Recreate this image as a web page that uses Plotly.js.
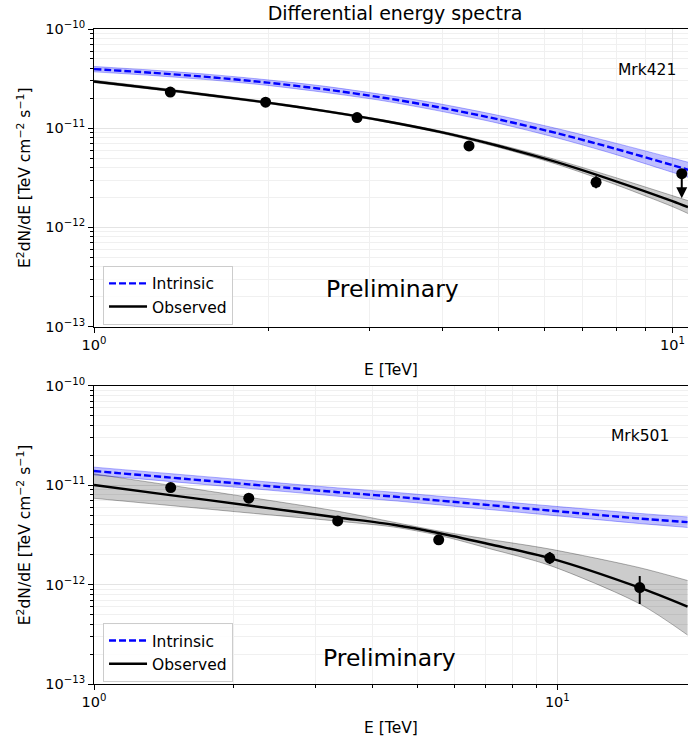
<!DOCTYPE html>
<html><head><meta charset="utf-8">
<script src="https://cdn.plot.ly/plotly-3.0.1.min.js"></script>
<style>html,body{margin:0;padding:0;background:#fff}#chart{width:688px;height:740px}</style>
</head><body><div id="chart"></div>
<script>
// ---------- Mrk421 (top panel) ----------
const e421Fit = [1, 1.259, 1.585, 1.995, 2.512, 3.162, 3.981, 5.012, 6.31, 7.943, 10, 10.64];
const obs421 = [2.96e-11, 2.53e-11, 2.15e-11, 1.81e-11, 1.486e-11, 1.189e-11, 9.12e-12, 6.61e-12, 4.55e-12, 2.95e-12, 1.84e-12, 1.60e-12];
const obs421Hi = [3.04e-11, 2.60e-11, 2.20e-11, 1.848e-11, 1.514e-11, 1.214e-11, 9.36e-12, 6.84e-12, 4.79e-12, 3.20e-12, 2.09e-12, 1.86e-12];
const obs421Lo = [2.88e-11, 2.47e-11, 2.10e-11, 1.773e-11, 1.458e-11, 1.165e-11, 8.89e-12, 6.39e-12, 4.33e-12, 2.72e-12, 1.62e-12, 1.38e-12];

const e421Int = [1, 1.259, 1.585, 1.995, 2.512, 3.162, 3.981, 5.012, 6.31, 7.943, 10, 10.64];
const int421 = [3.94e-11, 3.62e-11, 3.27e-11, 2.88e-11, 2.46e-11, 2.03e-11, 1.61e-11, 1.225e-11, 8.91e-12, 6.24e-12, 4.24e-12, 3.81e-12];
const int421Hi = [4.19e-11, 3.85e-11, 3.48e-11, 3.07e-11, 2.64e-11, 2.18e-11, 1.75e-11, 1.343e-11, 9.93e-12, 7.11e-12, 5.0e-12, 4.54e-12];
const int421Lo = [3.70e-11, 3.40e-11, 3.07e-11, 2.70e-11, 2.29e-11, 1.89e-11, 1.48e-11, 1.118e-11, 8.0e-12, 5.47e-12, 3.59e-12, 3.20e-12];

const e421Pts = [1.355, 1.98, 2.85, 4.45, 7.38];
const f421Pts = [2.31e-11, 1.83e-11, 1.28e-11, 6.62e-12, 2.85e-12];
const f421ErrUp = [0.4e-12, 0.35e-12, 0.3e-12, 0.25e-12, 0.42e-12];
const f421ErrDn = [0.4e-12, 0.35e-12, 0.3e-12, 0.25e-12, 0.37e-12];
// upper limit point
const e421UL = [10.38];
const f421UL = [3.48e-12];
const f421ULEnd = [1.97e-12];

// ---------- Mrk501 (bottom panel) ----------
const e501Fit = [1, 1.46, 2.16, 3.36, 4.43, 5.57, 7.14, 9.63, 15.06, 19.1];
const obs501 = [1.007e-11, 7.96e-12, 6.25e-12, 4.74e-12, 4.0e-12, 3.29e-12, 2.55e-12, 1.85e-12, 9.31e-13, 6.0e-13];
const obs501Hi = [1.30e-11, 1.00e-11, 7.57e-12, 5.47e-12, 4.25e-12, 3.45e-12, 2.85e-12, 2.28e-12, 1.48e-12, 1.10e-12];
const obs501Lo = [7.39e-12, 6.25e-12, 5.26e-12, 4.35e-12, 3.80e-12, 3.12e-12, 2.30e-12, 1.56e-12, 6.40e-13, 3.11e-13];

const e501Int = [1, 2.16, 3.36, 4.43, 9.63, 15.06, 19.1];
const int501 = [1.39e-11, 1.02e-11, 8.51e-12, 7.69e-12, 5.56e-12, 4.62e-12, 4.25e-12];
const int501Hi = [1.52e-11, 1.12e-11, 9.4e-12, 8.5e-12, 6.2e-12, 5.2e-12, 4.8e-12];
const int501Lo = [1.27e-11, 9.3e-12, 7.75e-12, 6.98e-12, 5.0e-12, 4.12e-12, 3.76e-12];

const e501Pts = [1.464, 2.158, 3.357, 5.546, 9.63, 15.06];
const f501Pts = [9.46e-12, 7.40e-12, 4.37e-12, 2.82e-12, 1.85e-12, 9.33e-13];
const f501ErrUp = [0.3e-12, 0.25e-12, 0.2e-12, 0.18e-12, 0.28e-12, 2.87e-13];
const f501ErrDn = [0.3e-12, 0.25e-12, 0.2e-12, 0.18e-12, 0.24e-12, 2.95e-13];

// ---------- ticks / labels ----------
const xTickVals = [1, 10];
const xTickText = ['10<sup>0</sup>', '10<sup>1</sup>'];
const yTickVals = [1e-13, 1e-12, 1e-11, 1e-10];
const yTickText = ['10<sup>\u221213</sup>', '10<sup>\u221212</sup>', '10<sup>\u221211</sup>', '10<sup>\u221210</sup>'];
const sources = ['Mrk421', 'Mrk501'];
const legendNames = ['Intrinsic', 'Observed'];
const titleText = 'Differential energy spectra';
const xTitle = 'E [TeV]';
const yTitle = 'E<sup>2</sup>dN/dE [TeV cm<sup>\u22122</sup> s<sup>\u22121</sup>]';
const watermark = 'Preliminary';

function minorVals(d0, d1) {
  const v = [];
  for (let d = d0; d <= d1; d++) for (let m = 2; m <= 9; m++) v.push(m * Math.pow(10, d));
  return v;
}

const FONT = 'DejaVu Sans, sans-serif';
const BLUE = '#0000ff';

function bandTraces(x, hi, lo, xa, ya, fill, edge) {
  return [
    {x: x, y: hi, xaxis: xa, yaxis: ya, mode: 'lines', line: {color: edge, width: 1, shape: 'spline', smoothing: 0.8}, showlegend: false, hoverinfo: 'skip'},
    {x: x, y: lo, xaxis: xa, yaxis: ya, mode: 'lines', line: {color: edge, width: 1, shape: 'spline', smoothing: 0.8}, fill: 'tonexty', fillcolor: fill, showlegend: false, hoverinfo: 'skip'}
  ];
}

function lineTrace(x, y, xa, ya, name, color, dash, legend) {
  return {x: x, y: y, xaxis: xa, yaxis: ya, mode: 'lines', name: name, legend: legend,
    line: {color: color, width: 2.4, dash: dash, shape: 'spline', smoothing: 0.8}};
}

function pointTrace(x, y, up, dn, xa, ya) {
  return {x: x, y: y, xaxis: xa, yaxis: ya, mode: 'markers', showlegend: false,
    marker: {color: '#000', size: 11},
    error_y: {type: 'data', symmetric: false, array: up, arrayminus: dn, color: '#000', thickness: 2, width: 0}};
}

const traces = [].concat(
  bandTraces(e421Int, int421Hi, int421Lo, 'x', 'y', 'rgba(0,0,255,0.25)', 'rgba(0,0,255,0.3)'),
  bandTraces(e421Fit, obs421Hi, obs421Lo, 'x', 'y', 'rgba(0,0,0,0.2)', 'rgba(0,0,0,0.3)'),
  [lineTrace(e421Int, int421, 'x', 'y', legendNames[0], BLUE, '7px,3px', 'legend'),
   lineTrace(e421Fit, obs421, 'x', 'y', legendNames[1], '#000', 'solid', 'legend'),
   pointTrace(e421Pts, f421Pts, f421ErrUp, f421ErrDn, 'x', 'y'),
   pointTrace(e421UL, f421UL, [0], [0], 'x', 'y')],
  bandTraces(e501Int, int501Hi, int501Lo, 'x2', 'y2', 'rgba(0,0,255,0.25)', 'rgba(0,0,255,0.3)'),
  bandTraces(e501Fit, obs501Hi, obs501Lo, 'x2', 'y2', 'rgba(0,0,0,0.2)', 'rgba(0,0,0,0.3)'),
  [lineTrace(e501Int, int501, 'x2', 'y2', legendNames[0], BLUE, '7px,3px', 'legend2'),
   lineTrace(e501Fit, obs501, 'x2', 'y2', legendNames[1], '#000', 'solid', 'legend2'),
   pointTrace(e501Pts, f501Pts, f501ErrUp, f501ErrDn, 'x2', 'y2')]
);

const GRID = '#e4e4e4';
const MINORGRID = '#f0f0f0';

function xAxis(range, anchor) {
  return {
    type: 'log', range: range, anchor: anchor, domain: [0, 1],
    tickmode: 'array', tickvals: xTickVals, ticktext: xTickText,
    ticks: 'outside', ticklen: 5, tickwidth: 1, tickcolor: '#000',
    showline: true, linecolor: '#000', linewidth: 1, mirror: true,
    showgrid: true, gridcolor: GRID, gridwidth: 1, zeroline: false,
    ticklabeloverflow: 'allow',
    tickfont: {family: FONT, size: 14.5, color: '#000'},
    minor: {tickmode: 'array', tickvals: minorVals(0, 1), ticks: 'outside', ticklen: 3, tickcolor: '#000', showgrid: true, gridcolor: MINORGRID, gridwidth: 1},
    title: {text: xTitle, font: {family: FONT, size: 15.5, color: '#000'}, standoff: 12}
  };
}
function yAxis(domain, anchor) {
  return {
    type: 'log', range: [-13, -10], anchor: anchor, domain: domain,
    tickmode: 'array', tickvals: yTickVals, ticktext: yTickText,
    ticks: 'outside', ticklen: 5, tickwidth: 1, tickcolor: '#000',
    showline: true, linecolor: '#000', linewidth: 1, mirror: false,
    showgrid: true, gridcolor: GRID, gridwidth: 1, zeroline: false,
    tickfont: {family: FONT, size: 14.5, color: '#000'},
    minor: {tickmode: 'array', tickvals: minorVals(-13, -11), ticks: 'outside', ticklen: 3, tickcolor: '#000', showgrid: true, gridcolor: MINORGRID, gridwidth: 1},
    title: {text: yTitle, font: {family: FONT, size: 15.5, color: '#000'}, standoff: 10}
  };
}

const legendBase = {
  xref: 'paper', yref: 'paper', xanchor: 'left', yanchor: 'top', traceorder: 'normal',
  bgcolor: 'rgba(255,255,255,0.85)', bordercolor: '#cccccc', borderwidth: 1,
  font: {family: FONT, size: 15.5, color: '#000'}, itemwidth: 38, tracegroupgap: 0
};

const layout = {
  width: 688, height: 740,
  margin: {l: 94, r: 0, t: 29.3, b: 56, pad: 0},
  paper_bgcolor: '#fff', plot_bgcolor: '#fff',
  font: {family: FONT, color: '#000'},
  title: {text: titleText, font: {family: FONT, size: 19, color: '#000'}, xref: 'container', yref: 'container', x: 395 / 688, xanchor: 'center', y: 1 - 13 / 740, yanchor: 'middle'},
  xaxis: xAxis([0, 1.027], 'y'),
  yaxis: yAxis([0.5457, 1], 'x'),
  xaxis2: xAxis([0, 1.282], 'y2'),
  yaxis2: yAxis([0, 0.4552], 'x2'),
  legend: Object.assign({}, legendBase, {x: 0.0152, y: 0.6385}),
  legend2: Object.assign({}, legendBase, {x: 0.0152, y: 0.0932}),
  showlegend: true,
  annotations: [
    {text: watermark, xref: 'paper', yref: 'paper', x: 0.5025, y: 0.6033, showarrow: false, font: {family: FONT, size: 23.5, color: '#000'}, xanchor: 'center', yanchor: 'middle'},
    {text: watermark, xref: 'paper', yref: 'paper', x: 0.4975, y: 0.0397, showarrow: false, font: {family: FONT, size: 23.5, color: '#000'}, xanchor: 'center', yanchor: 'middle'},
    {text: sources[0], xref: 'paper', yref: 'paper', x: 0.931, y: 0.9378, showarrow: false, font: {family: FONT, size: 15.5, color: '#000'}, xanchor: 'center', yanchor: 'middle'},
    {text: sources[1], xref: 'paper', yref: 'paper', x: 0.9197, y: 0.3788, showarrow: false, font: {family: FONT, size: 15.5, color: '#000'}, xanchor: 'center', yanchor: 'middle'},
    {x: Math.log10(e421UL[0]), y: Math.log10(f421ULEnd[0]), xref: 'x', yref: 'y',
     axref: 'x', ayref: 'y', ax: Math.log10(e421UL[0]), ay: Math.log10(f421UL[0]),
     showarrow: true, arrowhead: 2, arrowsize: 1.1, arrowwidth: 2, arrowcolor: '#000', text: ''}
  ]
};

Plotly.newPlot('chart', traces, layout, {staticPlot: true});
</script></body></html>
